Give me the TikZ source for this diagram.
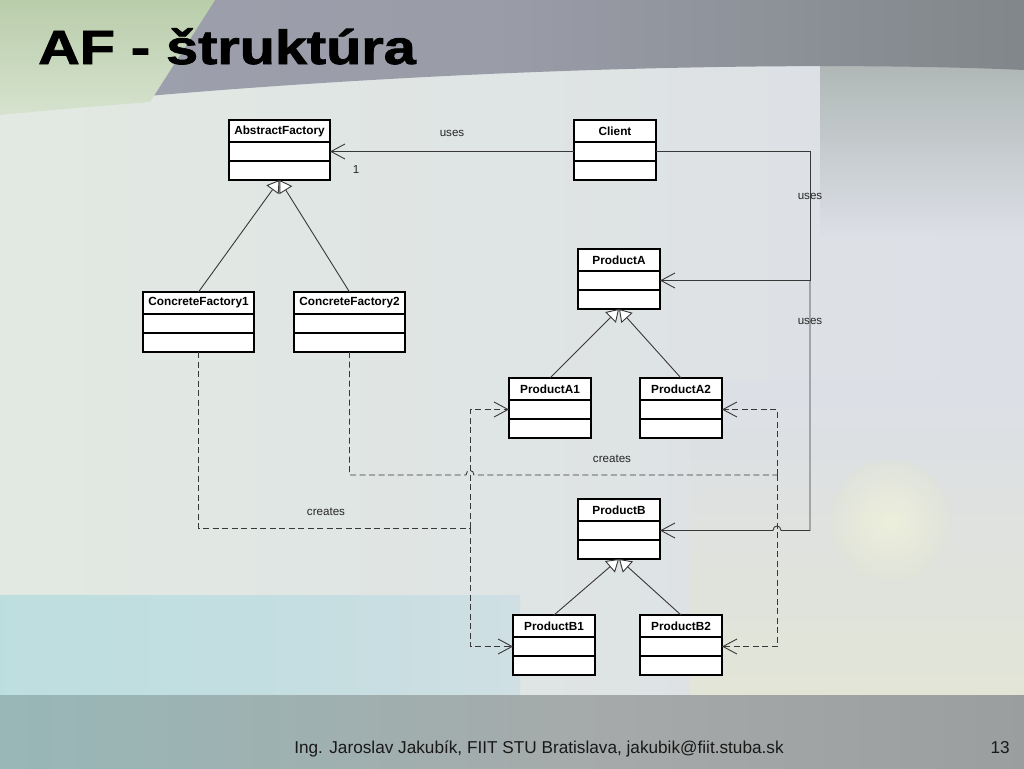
\documentclass[tikz,border=0pt]{standalone}
\usepackage{fontspec}
\setmainfont{Liberation Sans}
\newfontfamily\titlefont[BoldFeatures={FakeBold=1.6}]{Liberation Sans}
\usepackage{graphicx}
\usetikzlibrary{arrows.meta,calc}
\definecolor{bgbase}{HTML}{DCDFE6}
\definecolor{bgleft}{HTML}{E2E9E2}
\definecolor{topgrey}{HTML}{9EA1AE}
\definecolor{topdark}{HTML}{7A8081}
\definecolor{topgreen}{HTML}{B9CDAA}
\definecolor{greenlight}{HTML}{D6E2CE}
\definecolor{rightgrey}{HTML}{9EA9A4}
\definecolor{cream}{HTML}{E2E5D6}
\definecolor{teal}{HTML}{B8DEDE}
\definecolor{botgrey}{HTML}{A6A9A9}
\definecolor{botteal}{HTML}{8FC1C1}
\definecolor{connc}{HTML}{383838}
\pgfdeclarehorizontalshading{topband}{100bp}{color(0bp)=(topgrey!90!green); color(25bp)=(topgrey); color(50bp)=(topgrey!85!gray); color(75bp)=(topdark!80!topgrey); color(100bp)=(topdark)}
\pgfdeclarehorizontalshading{botband}{100bp}{color(0bp)=(botteal); color(30bp)=(botteal!50!botgrey); color(55bp)=(botgrey); color(80bp)=(botgrey!92!black); color(100bp)=(botgrey!85!black)}
\pgfdeclarehorizontalshading{tealband}{100bp}{color(0bp)=(teal); color(50bp)=(teal!70!bgbase); color(100bp)=(bgbase)}
\tikzset{
  cbox/.style={draw=black, line width=1.2pt, fill=white, inner sep=0pt, outer sep=0pt},
  ctitle/.style={font=\fontsize{11.8}{12}\selectfont\bfseries, inner sep=0pt},
  lbl/.style={font=\fontsize{11.6}{12}\selectfont, text=black!85, inner sep=0pt},
  conn/.style={draw=connc, line width=0.9pt},
  usesarr/.style={conn, -{Straight Barb[length=14pt, width=15pt, line width=0.9pt]}},
  dep/.style={conn, dash pattern=on 6pt off 3.5pt},
  deparr/.style={dep, -{Straight Barb[length=14pt, width=15pt, line width=0.9pt]}},
  gen/.style={conn, -{Triangle[open, length=12pt, width=15pt, fill=white, line width=0.9pt]}},
}
\newcommand\umlclass[5]{%
  \node[cbox, minimum width=#5pt, minimum height=60pt, anchor=north west] (#1) at (#3,#4) {};
  \node[ctitle] (#1-t) at ($(#1.north)+(0,11)$) {#2};
  \draw[line width=1.2pt] ($(#1.north west)+(0,22)$) -- ($(#1.north east)+(0,22)$);
  \draw[line width=1.2pt] ($(#1.north west)+(0,41)$) -- ($(#1.north east)+(0,41)$);
  \coordinate (#1-m) at ($(#1.north west)+(0,31.5)$);
  \coordinate (#1-me) at ($(#1.north east)+(0,31.5)$);
}
\begin{document}
\begin{tikzpicture}[x=1pt,y=-1pt]
\useasboundingbox (0,0) rectangle (1024,768);
% ---------- background ----------
\shade[left color=bgleft, right color=bgbase] (0,0) rectangle (1024,768);
\shade[top color=bgbase, bottom color=cream] (690,380) rectangle (1024,700);
\shade[inner color=white!85!yellow, outer color=cream, opacity=0.45] (890,520) circle (60);
\shade[top color=rightgrey, bottom color=bgbase] (820,0) rectangle (1024,235);
\shade[shading=tealband] (0,595) rectangle (520,700);
\shade[shading=topband]
  (0,0) -- (1024,0) -- (1024,70) .. controls (800,60) and (400,68) .. (0,110) -- cycle;
\shade[top color=topgreen, bottom color=greenlight]
  (0,0) -- (215,0) -- (150,102) .. controls (100,106) and (50,110) .. (0,115) -- cycle;
\shade[shading=botband] (0,695) rectangle (1024,768);
% ---------- title and footer ----------
\node[anchor=base west, inner sep=0pt, text=black] (title) at (38,64)
  {\scalebox{1.2}[1]{\titlefont\bfseries\fontsize{48}{50}\selectfont AF - štruktúra}};
\node[anchor=base, inner sep=0pt, text=black!90] (footer) at (539,753)
  {\fontsize{17.2}{18}\selectfont Ing. Jaroslav Jakubík, FIIT STU Bratislava, jakubik@fiit.stuba.sk};
\node[anchor=base east, inner sep=0pt, text=black!90] (pageno) at (1010,753)
  {\fontsize{17.2}{18}\selectfont 13};
% ---------- classes ----------
\umlclass{af}{AbstractFactory}{229}{120}{101}
\umlclass{client}{Client}{574}{120}{82}
\umlclass{pa}{ProductA}{578}{249}{82}
\umlclass{cf1}{ConcreteFactory1}{143}{292}{111}
\umlclass{cf2}{ConcreteFactory2}{294}{292}{111}
\umlclass{pa1}{ProductA1}{509}{378}{82}
\umlclass{pa2}{ProductA2}{640}{378}{82}
\umlclass{pb}{ProductB}{578}{499}{82}
\umlclass{pb1}{ProductB1}{513}{615}{82}
\umlclass{pb2}{ProductB2}{640}{615}{82}
% ---------- generalizations ----------
\draw[gen] (cf1.north) -- (af.south);
\draw[gen] (cf2.north) -- (af.south);
\draw[gen] (pa1.north) -- (pa.south);
\draw[gen] (pa2.north) -- (pa.south);
\draw[gen] (pb1.north) -- (pb.south);
\draw[gen] (pb2.north) -- (pb.south);
% ---------- uses ----------
\draw[usesarr] (client.west |- client-m) -- (af-me);
\node[lbl] (usesaf) at (452,133) {uses};
\node[lbl] (one) at (356,170) {1};
\coordinate (railA) at ($(pa-me)+(150,0)$);
\coordinate (railB) at ($(pb-me)+(150,0)$);
\draw[usesarr] (client-me) -| (railA) -- (pa-me);
\draw[usesarr] (railA) -- (railB) -- ($(railB)+(-29,0)$)
  .. controls +(0,-6) and +(0,-6) .. ($(railB)+(-37,0)$) -- (pb-me);
\node[lbl] (uses1) at (810,196) {uses};
\node[lbl] (uses2) at (810,321) {uses};
% ---------- creates ----------
\coordinate (jL) at (470,528);
\coordinate (jR) at (777,475);
\draw[dep] (cf1.south) |- (jL);
\draw[deparr] (jL) |- (pa1-m);
\draw[deparr] (jL) |- (pb1-m);
\draw[dep] (cf2.south) |- (466,475) .. controls (466,469) and (474,469) .. (474,475) -- (jR);
\draw[deparr] (jR) |- (pa2-me);
\draw[deparr] (jR) |- (pb2-me);
\node[lbl] (creates1) at (612,459) {creates};
\node[lbl] (creates2) at (326,512) {creates};
\end{tikzpicture}
\end{document}
